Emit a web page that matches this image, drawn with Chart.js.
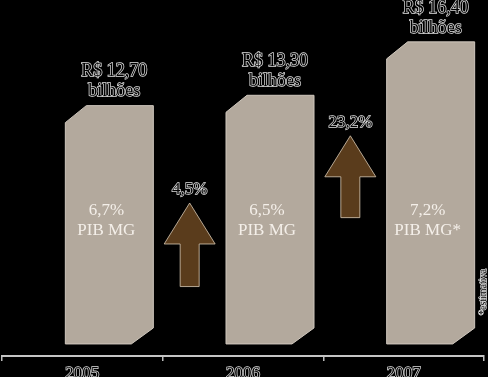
<!DOCTYPE html>
<html>
<head>
<meta charset="utf-8">
<script src="https://cdn.jsdelivr.net/npm/chart.js@4"></script>
<style>
  html, body { margin: 0; padding: 0; background: #000; }
  #wrap { width: 488px; height: 377px; }
</style>
</head>
<body>
<div id="wrap"><canvas id="chart"></canvas></div>
<script>
// values
const years = ["2005", "2006", "2007"];
const revenue = [12.70, 13.30, 16.40]; // R$ bilhões
const revenueLabels = ["R$ 12,70", "R$ 13,30", "R$ 16,40"];
const pibShare = ["6,7%", "6,5%", "7,2%"];
const pibNote = ["PIB MG", "PIB MG", "PIB MG*"];
const growth = ["4,5%", "23,2%"];
const arrowFrom = [2.2, 6.2];
const arrowTo = [7.05, 10.95];

const SERIF = "'Liberation Serif', 'DejaVu Serif', serif";
const BAR_COLOR = "#b3a99d";
const ARROW_COLOR = "#5a3c1c";

function outlinedText(ctx, text, x, y, size) {
  ctx.font = size + "px " + SERIF;
  ctx.textAlign = "center";
  ctx.textBaseline = "middle";
  ctx.lineWidth = 1.4;
  ctx.strokeStyle = "#e0e0e0";
  ctx.strokeText(text, x, y);
  ctx.fillStyle = "#000";
  ctx.fillText(text, x, y);
}

const shapesPlugin = {
  id: "shapes",
  afterDatasetsDraw(chart) {
    const ctx = chart.ctx;
    const yScale = chart.scales.y;
    const bars = chart.getDatasetMeta(0).data;
    const shift = 27, half = 44, cutTop = [21, 17], cutBot = [22, 16];
    const edges = [];

    ctx.save();
    bars.forEach((bar, i) => {
      const cx = bar.x + shift;
      const l = cx - half, r = cx + half;
      const top = bar.y, bottom = bar.base;
      edges.push([l, r]);

      ctx.beginPath();
      ctx.moveTo(l, top + cutTop[1]);
      ctx.lineTo(l + cutTop[0], top);
      ctx.lineTo(r, top);
      ctx.lineTo(r, bottom - cutBot[1]);
      ctx.lineTo(r - cutBot[0], bottom);
      ctx.lineTo(l, bottom);
      ctx.closePath();
      ctx.fillStyle = BAR_COLOR;
      ctx.fill();
      ctx.lineWidth = 1;
      ctx.strokeStyle = "#cfc7bd";
      ctx.stroke();

      // value above the bar
      outlinedText(ctx, revenueLabels[i], cx + 5, top - 34, 18);
      outlinedText(ctx, "bilhões", cx + 5, top - 14, 18);

      // share of state GDP inside the bar
      const base = chart.chartArea.bottom;
      ctx.font = "17px " + SERIF;
      ctx.textAlign = "center";
      ctx.textBaseline = "middle";
      ctx.fillStyle = "#f4efe9";
      ctx.fillText(pibShare[i], cx - 3, base - 145);
      ctx.fillText(pibNote[i], cx - 3, base - 125);
    });

    // growth arrows between bars
    growth.forEach((g, i) => {
      const ax = (edges[i][1] + edges[i + 1][0]) / 2;
      const yTop = yScale.getPixelForValue(arrowTo[i]);
      const yBot = yScale.getPixelForValue(arrowFrom[i]);
      const headH = 41, headW = 25.5, shaftW = 9.5;
      ctx.beginPath();
      ctx.moveTo(ax, yTop);
      ctx.lineTo(ax + headW, yTop + headH);
      ctx.lineTo(ax + shaftW, yTop + headH);
      ctx.lineTo(ax + shaftW, yBot);
      ctx.lineTo(ax - shaftW, yBot);
      ctx.lineTo(ax - shaftW, yTop + headH);
      ctx.lineTo(ax - headW, yTop + headH);
      ctx.closePath();
      ctx.fillStyle = ARROW_COLOR;
      ctx.fill();
      ctx.lineWidth = 0.8;
      ctx.strokeStyle = "#d8c9b4";
      ctx.stroke();
      outlinedText(ctx, g, ax, yTop - 13, 17);
    });

    // footnote, rotated at the right edge
    ctx.translate(483, 292);
    ctx.rotate(-Math.PI / 2);
    outlinedText(ctx, "*estimativa", 0, 0, 10);
    ctx.restore();
  }
};

const ctx = document.getElementById("chart").getContext("2d");
new Chart(ctx, {
  type: "bar",
  data: {
    labels: years,
    datasets: [{
      data: revenue,
      base: -1.13,
      backgroundColor: "rgba(0,0,0,0)",
      barThickness: 88
    }]
  },
  options: {
    responsive: true,
    maintainAspectRatio: false,
    animation: false,
    devicePixelRatio: 1,
    layout: { padding: { left: 2, right: 4, top: 0, bottom: 0 } },
    plugins: { legend: { display: false }, tooltip: { enabled: false } },
    scales: {
      x: {
        offset: true,
        afterFit(scale) { scale.height = 21; },
        grid: {
          display: true,
          offset: true,
          drawOnChartArea: false,
          tickLength: 5,
          color: "#bdbdbd",
          lineWidth: 1.5
        },
        border: { display: true, color: "#c4c4c4", width: 2 },
        ticks: {
          padding: 2,
          color: "#000",
          textStrokeColor: "#e0e0e0",
          textStrokeWidth: 1.4,
          font: { family: SERIF, size: 17 }
        }
      },
      y: {
        display: false,
        min: -1.83,
        max: 18.83
      }
    }
  },
  plugins: [shapesPlugin]
});
</script>
</body>
</html>
